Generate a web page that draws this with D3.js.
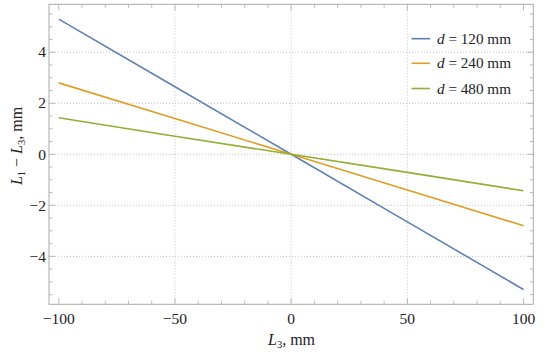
<!DOCTYPE html>
<html><head><meta charset="utf-8">
<script src="https://cdn.jsdelivr.net/npm/d3@7"></script>
<style>body{margin:0;background:#fff}svg{display:block}text{font-family:"Liberation Serif","Times New Roman",serif;fill:#222}</style>
</head><body><svg id="c" width="550" height="353"></svg>
<script>
const xs = [-100, -50, 0, 50, 100];
const d120 = [5.3, 2.65, 0, -2.65, -5.3];
const d240 = [2.8, 1.4, 0, -1.4, -2.8];
const d480 = [1.43, 0.71, 0, -0.71, -1.43];
const seriesNames = ["120", "240", "480"];
const colors = ["#5E81B5", "#E19C24", "#8FB032"];
const xTicks = [-100, -50, 0, 50, 100];
const yTicks = [-4, -2, 0, 2, 4];

const svg = d3.select("#c");
const L = 49, R = 533.3, T = 4.3, B = 304.3;
const x = d3.scaleLinear().domain([-104.2, 104.2]).range([L, R]);
const y = d3.scaleLinear().domain([-5.88, 5.88]).range([B, T]);

// grid
const g = svg.append("g");
g.selectAll(".gx").data([-50, 0, 50]).join("line")
  .attr("x1", d => x(d)).attr("x2", d => x(d)).attr("y1", T).attr("y2", B)
  .attr("stroke", "#bbb").attr("stroke-width", 0.9).attr("stroke-dasharray", "1,2");
g.selectAll(".gy").data(yTicks).join("line")
  .attr("y1", d => y(d)).attr("y2", d => y(d)).attr("x1", L).attr("x2", R)
  .attr("stroke", "#bbb").attr("stroke-width", 0.9).attr("stroke-dasharray", "1,2");

// ticks (inward, all sides)
const tickCol = "#aaa";
const xMinor = d3.range(-100, 101, 10);
const yMinor = d3.range(-5.5, 5.6, 0.5);
function tk(sel, data, f) { sel.selectAll(null).data(data).join("line").each(f).attr("stroke", tickCol).attr("stroke-width", 0.8); }
const tg = svg.append("g");
tk(tg, xMinor, function(d){ const len = xTicks.includes(d) ? 6 : 3.5;
  d3.select(this).attr("x1", x(d)).attr("x2", x(d)).attr("y1", B).attr("y2", B - len); });
tk(tg, xMinor, function(d){ const len = xTicks.includes(d) ? 6 : 3.5;
  d3.select(this).attr("x1", x(d)).attr("x2", x(d)).attr("y1", T).attr("y2", T + len); });
tk(tg, yMinor, function(d){ const len = (Math.abs(d % 2) < 1e-6) ? 6 : 3.5;
  d3.select(this).attr("y1", y(d)).attr("y2", y(d)).attr("x1", L).attr("x2", L + len); });
tk(tg, yMinor, function(d){ const len = (Math.abs(d % 2) < 1e-6) ? 6 : 3.5;
  d3.select(this).attr("y1", y(d)).attr("y2", y(d)).attr("x1", R).attr("x2", R - len); });

// frame
svg.append("rect").attr("x", L).attr("y", T).attr("width", R - L).attr("height", B - T)
  .attr("fill", "none").attr("stroke", "#aaa").attr("stroke-width", 1);

// tick labels
const fmt = v => (v < 0 ? "\u2212" + Math.abs(v) : String(v));
svg.selectAll(".xl").data(xTicks).join("text")
  .attr("x", d => x(d)).attr("y", 323.5).attr("text-anchor", "middle")
  .attr("font-size", 15.5).text(fmt);
svg.selectAll(".yl").data(yTicks).join("text")
  .attr("x", 46).attr("y", d => y(d) + 5.2).attr("text-anchor", "end")
  .attr("font-size", 15.5).text(fmt);

// lines
const all = [d120, d240, d480];
const line = d3.line().x((d, i) => x(xs[i])).y(d => y(d));
svg.selectAll(".s").data(all).join("path")
  .attr("d", d => line(d)).attr("fill", "none")
  .attr("stroke", (d, i) => colors[i]).attr("stroke-width", 1.6);

// legend
const lg = svg.append("g");
const ly = [38.7, 63.3, 88.5];
seriesNames.forEach((n, i) => {
  lg.append("line").attr("x1", 411.5).attr("x2", 430).attr("y1", ly[i]).attr("y2", ly[i])
    .attr("stroke", colors[i]).attr("stroke-width", 1.6);
  const t = lg.append("text").attr("x", 437).attr("y", ly[i] + 5).attr("font-size", 15.2);
  t.append("tspan").attr("font-style", "italic").text("d");
  t.append("tspan").text(" = " + n + " mm");
});

// axis titles
const xt = svg.append("text").attr("x", 291.5).attr("y", 344.5).attr("text-anchor", "middle").attr("font-size", 16);
xt.append("tspan").attr("font-style", "italic").text("L");
xt.append("tspan").attr("font-size", 10.5).attr("dy", 3).text("3");
xt.append("tspan").attr("dy", -3).text(", mm");

const yt = svg.append("text").attr("transform", "translate(21.5,146) rotate(-90)").attr("text-anchor", "middle").attr("font-size", 16);
yt.append("tspan").attr("font-style", "italic").text("L");
yt.append("tspan").attr("font-size", 10.5).attr("dy", 3).text("1");
yt.append("tspan").attr("dy", -3).text(" \u2212 ");
yt.append("tspan").attr("font-style", "italic").text("L");
yt.append("tspan").attr("font-size", 10.5).attr("dy", 3).text("3");
yt.append("tspan").attr("dy", -3).text(", mm");
</script></body></html>
